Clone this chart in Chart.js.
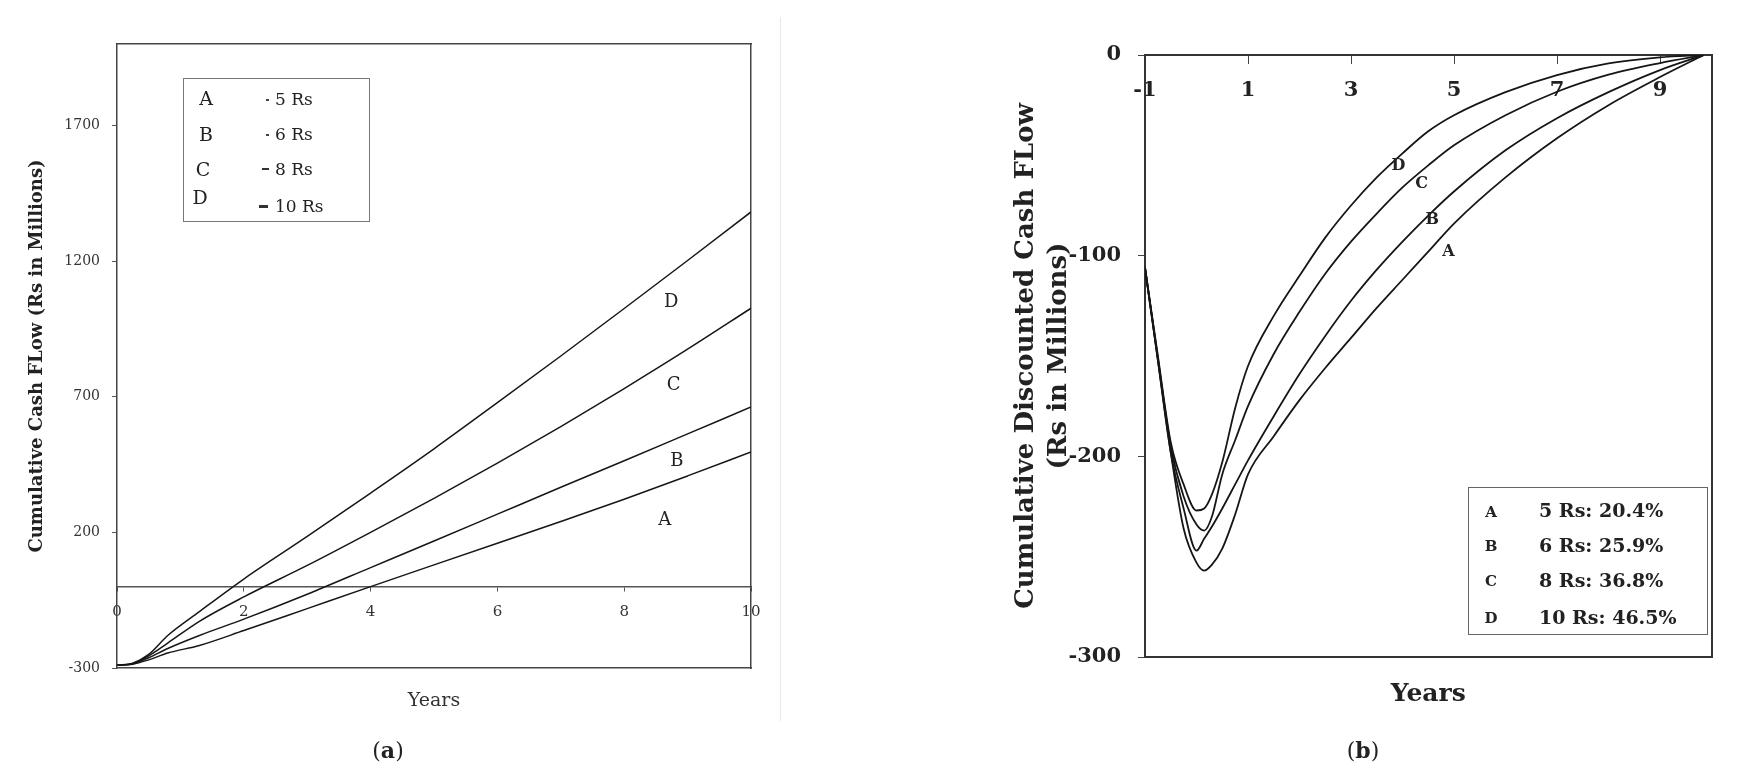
<!DOCTYPE html>
<html>
<head>
<meta charset="utf-8">
<script src="https://cdn.jsdelivr.net/npm/chart.js@4.4.1/dist/chart.umd.min.js"></script>
<style>
  html, body { margin:0; padding:0; background:#fff; }
  body { width:1739px; height:784px; position:relative; overflow:hidden; font-family:'DejaVu Serif', serif; color:#222; }
  .abs { position:absolute; }
  .mid { transform:translateY(-50%); white-space:nowrap; line-height:1; }
  .ctr { transform:translate(-50%,-50%); white-space:nowrap; line-height:1; }
</style>
</head>
<body>
<div class="abs" style="left:0;top:0;width:780px;height:784px;"><canvas id="ca"></canvas></div>
<div class="abs" style="left:790px;top:0;width:949px;height:784px;"><canvas id="cb"></canvas></div>
<div class="abs" style="left:780px;top:17px;width:1px;height:704px;background:#e8e8e8;"></div>

<!-- legend (a) -->
<div class="abs" style="left:183px;top:78px;width:187px;height:144px;border:1.5px solid #777;box-sizing:border-box;font-size:17px;color:#222;">
  <span class="abs ctr" style="left:22px;top:19px;font-size:19px;">A</span>
  <span class="abs ctr" style="left:22px;top:55px;font-size:19px;">B</span>
  <span class="abs ctr" style="left:19px;top:90px;font-size:19px;">C</span>
  <span class="abs ctr" style="left:16px;top:118px;font-size:19px;">D</span>
  <span class="abs" style="left:82px;top:20px;width:3px;height:2px;background:#444;"></span>
  <span class="abs mid" style="left:91px;top:20px;">5 Rs</span>
  <span class="abs" style="left:82px;top:55px;width:3px;height:2px;background:#444;"></span>
  <span class="abs mid" style="left:91px;top:55px;">6 Rs</span>
  <span class="abs" style="left:78px;top:89px;width:7px;height:2px;background:#333;"></span>
  <span class="abs mid" style="left:91px;top:90px;">8 Rs</span>
  <span class="abs" style="left:75px;top:126px;width:9px;height:3px;background:#333;"></span>
  <span class="abs mid" style="left:91px;top:127px;">10 Rs</span>
</div>

<!-- legend (b) -->
<div class="abs" style="left:1468px;top:487px;width:240px;height:148px;border:1.5px solid #666;box-sizing:border-box;font-weight:bold;color:#222;">
  <span class="abs ctr" style="left:22px;top:24px;font-size:15px;">A</span>
  <span class="abs ctr" style="left:22px;top:58px;font-size:15px;">B</span>
  <span class="abs ctr" style="left:22px;top:93px;font-size:15px;">C</span>
  <span class="abs ctr" style="left:22px;top:130px;font-size:15px;">D</span>
  <span class="abs mid" style="left:70px;top:22px;font-size:19px;">5 Rs: 20.4%</span>
  <span class="abs mid" style="left:70px;top:57px;font-size:19px;">6 Rs: 25.9%</span>
  <span class="abs mid" style="left:70px;top:92px;font-size:19px;">8 Rs: 36.8%</span>
  <span class="abs mid" style="left:70px;top:129px;font-size:19px;">10 Rs: 46.5%</span>
</div>

<div class="abs ctr" style="left:388px;top:750px;font-size:22px;color:#222;">(<b>a</b>)</div>
<div class="abs ctr" style="left:1363px;top:750px;font-size:22px;color:#222;">(<b>b</b>)</div>

<script>
// ---------- panel (a): cumulative cash flow ----------
const aYears   = [0, 0.25, 0.5, 0.8, 1.3, 2, 3, 4, 5, 6, 7, 8, 9, 10];
const aSeriesA = [-290, -286, -270, -245, -217, -162, -81, 0, 80, 160, 240, 322, 408, 496];
const aSeriesB = [-290, -284, -262, -228, -180, -120, -28, 70, 168, 267, 366, 464, 563, 662];
const aSeriesC = [-290, -283, -255, -208, -128, -38, 78, 200, 325, 455, 590, 730, 875, 1026];
const aSeriesD = [-290, -282, -250, -180, -92, 28, 185, 345, 508, 678, 850, 1025, 1202, 1381];
const aTicksX  = [0, 2, 4, 6, 8, 10];
const aTicksY  = [-300, 200, 700, 1200, 1700];
const aLabelText = ['A', 'B', 'C', 'D'];
const aLabelX    = [8.64, 8.83, 8.78, 8.74];
const aLabelY    = [246, 463, 742, 1049];

// ---------- panel (b): cumulative discounted cash flow ----------
const bYears   = [-1, -0.75, -0.5, -0.25, 0, 0.15, 0.3, 0.5, 0.75, 1, 1.5, 2, 2.5, 3, 3.5, 4, 4.5, 5, 6, 7, 8, 9, 9.85];
const bSeriesA = [-106, -152, -198, -236, -253, -257, -254, -246, -229, -209, -190, -172, -156, -141, -126, -112, -98, -84, -61, -41.5, -25, -11, 0];
const bSeriesB = [-106, -152, -198, -226, -247, -241, -235, -226, -214, -202, -180, -159, -140, -122.5, -107, -93, -80, -68, -47.5, -31.5, -18.5, -7.5, 0];
const bSeriesC = [-106, -151, -195, -220, -234, -237, -230, -209, -192, -175, -149, -128, -109, -93, -79, -66, -55, -45, -30, -18.3, -9.8, -4, 0];
const bSeriesD = [-106, -150, -193, -214, -227, -226, -219, -203, -176, -155, -130, -110, -91, -75, -61, -49, -38, -30, -18.5, -10, -4.2, -1.2, 0];
const bTicksX  = [-1, 1, 3, 5, 7, 9];
const bTicksY  = [-300, -200, -100, 0];
const bLabelText = ['A', 'B', 'C', 'D'];
const bLabelX    = [4.89, 4.58, 4.37, 3.92];
const bLabelY    = [-98, -82, -64, -55];

const pts = (xs, ys) => xs.map((x, i) => ({x: x, y: ys[i]}));
const fixedTicks = arr => scale => { scale.ticks = arr.map(v => ({value: v})); };

const curveLabels = {
  id: 'curveLabels',
  afterDatasetsDraw(chart, args, opts) {
    const {ctx, scales} = chart;
    ctx.save();
    ctx.font = opts.font;
    ctx.fillStyle = opts.color;
    ctx.textAlign = 'center';
    ctx.textBaseline = 'middle';
    opts.text.forEach((t, i) => {
      ctx.fillText(t, scales.x.getPixelForValue(opts.xs[i]), scales.y.getPixelForValue(opts.ys[i]));
    });
    ctx.restore();
  }
};
Chart.register(curveLabels);

function ds(label, data, w) {
  return { label: label, data: data, xAxisID: 'x', yAxisID: 'y', borderColor: '#161616', borderWidth: w,
           pointRadius: 0, fill: false, cubicInterpolationMode: 'monotone' };
}
const frame = (color, width) => ({ ticks: {display: false}, grid: {display: false}, border: {display: true, color: color, width: width} });

// ---------- chart (a) ----------
new Chart(document.getElementById('ca'), {
  type: 'line',
  data: { datasets: [
    ds('A', pts(aYears, aSeriesA), 1.5), ds('B', pts(aYears, aSeriesB), 1.5),
    ds('C', pts(aYears, aSeriesC), 1.5), ds('D', pts(aYears, aSeriesD), 1.5) ] },
  options: {
    responsive: true, maintainAspectRatio: false, animation: false, devicePixelRatio: 1,
    layout: { padding: { left: 0, top: 44, right: 29, bottom: 72 } },
    plugins: {
      legend: { display: false }, tooltip: { enabled: false },
      curveLabels: { text: aLabelText, xs: aLabelX, ys: aLabelY, font: '18px "DejaVu Serif"', color: '#222' }
    },
    scales: {
      x: { type: 'linear', position: { y: 0 }, min: 0, max: 10,
           afterBuildTicks: fixedTicks(aTicksX), afterFit: s => { s.height = 0; },
           grid: { display: true, drawOnChartArea: false, tickLength: 4, color: '#555' },
           border: { display: true, color: '#555', width: 1.5 },
           ticks: { padding: 13, color: '#333', font: { family: 'DejaVu Serif', size: 15 }, callback: v => String(v), maxRotation: 0, autoSkip: false } },
      y: { type: 'linear', position: 'left', min: -300, max: 2000,
           afterBuildTicks: fixedTicks(aTicksY), afterFit: s => { s.width = 117; },
           grid: { display: true, drawOnChartArea: false, tickLength: 5, color: '#555' },
           border: { display: true, color: '#444', width: 1.5 },
           ticks: { padding: 12, color: '#333', font: { family: 'DejaVu Serif', size: 14 }, callback: v => String(v), autoSkip: false },
           title: { display: true, text: 'Cumulative Cash FLow (Rs in Millions)', color: '#222',
                    font: { family: 'DejaVu Serif', size: 18, weight: 'bold' }, padding: { top: 27, bottom: 0 } } },
      xb: Object.assign({ type: 'linear', position: 'bottom', axis: 'x', afterFit: s => { s.height = 44; },
           title: { display: true, text: 'Years', color: '#333', font: { family: 'DejaVu Serif', size: 19 }, padding: { top: 0, bottom: 0 } } }, frame('#444', 1.5)),
      xt: Object.assign({ type: 'linear', position: 'top', axis: 'x', afterFit: s => { s.height = 0; } }, frame('#444', 1.5)),
      yr: Object.assign({ type: 'linear', position: 'right', axis: 'y', afterFit: s => { s.width = 0; } }, frame('#444', 1.5))
    }
  }
});

// ---------- chart (b) ----------
new Chart(document.getElementById('cb'), {
  type: 'line',
  data: { datasets: [
    ds('A', pts(bYears, bSeriesA), 1.8), ds('B', pts(bYears, bSeriesB), 1.8),
    ds('C', pts(bYears, bSeriesC), 1.8), ds('D', pts(bYears, bSeriesD), 1.8) ] },
  options: {
    responsive: true, maintainAspectRatio: false, animation: false, devicePixelRatio: 1,
    layout: { padding: { left: 0, top: 55, right: 27.5, bottom: 75 } },
    plugins: {
      legend: { display: false }, tooltip: { enabled: false },
      curveLabels: { text: bLabelText, xs: bLabelX, ys: bLabelY, font: 'bold 16px "DejaVu Serif"', color: '#222' }
    },
    scales: {
      x: { type: 'linear', position: { y: 0 }, min: -1, max: 10,
           afterBuildTicks: fixedTicks(bTicksX), afterFit: s => { s.height = 0; },
           grid: { display: true, drawOnChartArea: false, tickLength: 8, color: '#444' },
           border: { display: true, color: '#333', width: 2 },
           ticks: { padding: 15, color: '#222', font: { family: 'DejaVu Serif', size: 21, weight: 'bold' }, callback: v => String(v), maxRotation: 0, autoSkip: false } },
      y: { type: 'linear', position: 'left', min: -300, max: 0,
           afterBuildTicks: fixedTicks(bTicksY), afterFit: s => { s.width = 355; },
           grid: { display: true, drawOnChartArea: false, tickLength: 7, color: '#444' },
           border: { display: true, color: '#333', width: 2 },
           ticks: { padding: 17, color: '#222', font: { family: 'DejaVu Serif', size: 21, weight: 'bold' }, callback: v => String(v), autoSkip: false },
           title: { display: true, text: ['Cumulative Discounted Cash FLow', '(Rs in Millions)'], color: '#222',
                    font: { family: 'DejaVu Serif', size: 26, weight: 'bold', lineHeight: 1.25 }, padding: { top: 220, bottom: 0 } } },
      xb: Object.assign({ type: 'linear', position: 'bottom', axis: 'x', afterFit: s => { s.height = 52; },
           title: { display: true, text: 'Years', color: '#222', font: { family: 'DejaVu Serif', size: 25, weight: 'bold' }, padding: { top: 0, bottom: 0 } } }, frame('#333', 2)),
      yr: Object.assign({ type: 'linear', position: 'right', axis: 'y', afterFit: s => { s.width = 0; } }, frame('#333', 2))
    }
  }
});
</script>
</body>
</html>
